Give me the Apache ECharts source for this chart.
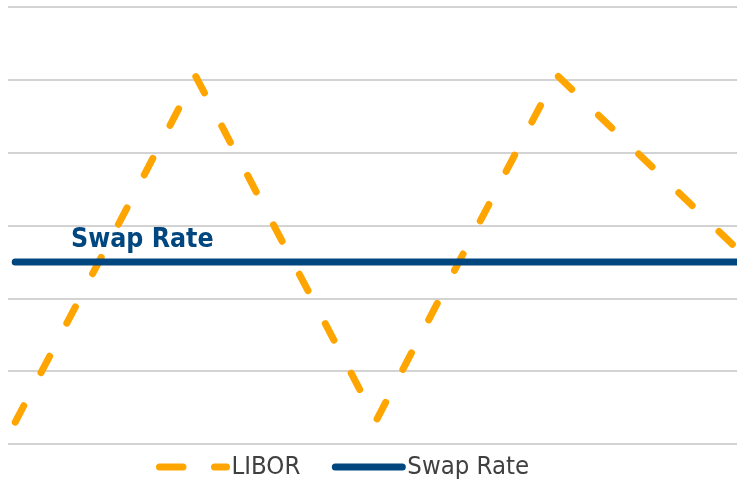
<!DOCTYPE html>
<html>
<head>
<meta charset="utf-8">
<script src="https://cdn.jsdelivr.net/npm/echarts@6/dist/echarts.min.js"></script>
<style>
html,body{margin:0;padding:0;background:#fff;}
#chart{width:737px;height:481px;}
</style>
</head>
<body>
<div id="chart"></div>
<script>
// Data
const categories = ['P1', 'P2', 'P3', 'P4', 'P5'];
const liborValues = [0.3, 5.05, 0.32, 5.07, 2.68];
const swapValues = [2.5, 2.5, 2.5, 2.5, 2.5];
const seriesNames = ['LIBOR', 'Swap Rate'];
const annotationText = 'Swap Rate';

const ORANGE = '#FFA500';
const NAVY = '#00467F';
const FONT = "'DejaVu Sans Condensed', 'DejaVu Sans', sans-serif";

const toPairs = vals => vals.map((v, i) => [i, v]);

const chart = echarts.init(document.getElementById('chart'), null, {renderer: 'canvas'});
chart.setOption({
  animation: false,
  backgroundColor: '#ffffff',
  grid: {left: 8, right: 0, top: 7, bottom: 37, containLabel: false},
  xAxis: {
    type: 'value',
    min: -0.04,
    max: categories.length - 1,
    show: false
  },
  yAxis: {
    type: 'value',
    min: 0,
    max: 6,
    interval: 1,
    axisLine: {show: false},
    axisTick: {show: false},
    axisLabel: {show: false},
    splitLine: {show: true, lineStyle: {color: '#C4C4C4', width: 1.6}}
  },
  legend: {
    left: 151,
    top: 449,
    itemWidth: 67,
    itemHeight: 7,
    itemGap: 31.5,
    textStyle: {fontFamily: FONT, fontSize: 25.5, color: '#404040'},
    data: [
      {name: seriesNames[0], itemStyle: {opacity: 0}, lineStyle: {color: ORANGE, width: 7, type: [23.5, 31.5], cap: 'round'}},
      {name: seriesNames[1], itemStyle: {opacity: 0}, lineStyle: {color: NAVY, width: 7, type: 'solid', cap: 'round'}}
    ]
  },
  series: [
    {
      name: seriesNames[0],
      type: 'line',
      data: toPairs(liborValues),
      symbol: 'none',
      lineStyle: {color: ORANGE, width: 7, type: [18.5, 37.3], cap: 'round', join: 'round'},
      itemStyle: {color: ORANGE},
      z: 2
    },
    {
      name: seriesNames[1],
      type: 'line',
      data: toPairs(swapValues),
      symbol: 'none',
      lineStyle: {color: NAVY, width: 7, type: 'solid', cap: 'round'},
      itemStyle: {color: NAVY},
      z: 3
    }
  ],
  graphic: [
    {
      type: 'text',
      left: 71,
      top: 227,
      z: 10,
      style: {
        text: annotationText,
        fill: NAVY,
        font: "bold 26.5px " + FONT
      }
    }
  ]
});
</script>
</body>
</html>
